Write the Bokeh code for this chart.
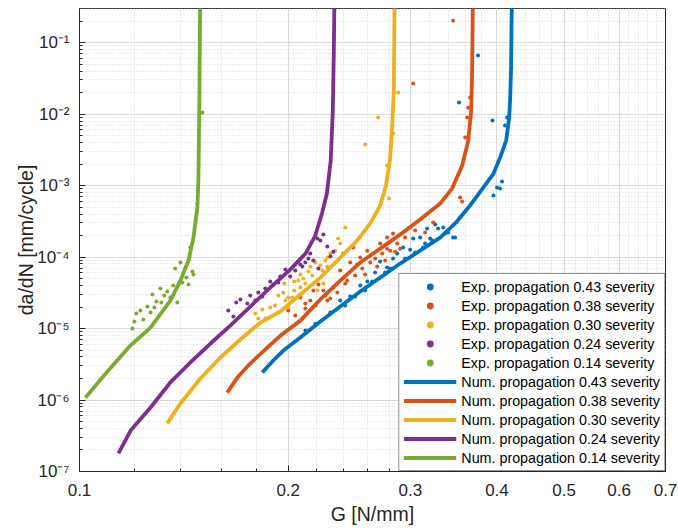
from bokeh.plotting import figure
from bokeh.models import Range1d, FixedTicker, Legend, LegendItem
from bokeh.embed import file_html
from bokeh.resources import INLINE

severities = ["0.43", "0.38", "0.30", "0.24", "0.14"]
colors = ["#0072BD", "#D95319", "#EDB120", "#7E2F8E", "#77AC30"]

# ---------------- numerical curves ----------------
num_G_043 = [0.1835, 0.1903, 0.1968, 0.2082, 0.2225, 0.2377, 0.2540, 0.2714, 0.2900, 0.3099,
             0.3312, 0.3502, 0.3657, 0.3803, 0.3954, 0.4041, 0.4124, 0.4164, 0.4178, 0.4192, 0.4206]
num_D_043 = [2.42e-6, 3.57e-6, 4.92e-6, 7.48e-6, 1.25e-5, 2.03e-5, 3.29e-5, 5.16e-5, 8.11e-5, 1.23e-4,
             1.87e-4, 3.14e-4, 5.25e-4, 8.79e-4, 1.47e-3, 2.46e-3, 4.26e-3, 8.65e-3, 1.55e-2, 4.47e-2, 1.0]

num_G_038 = [0.1633, 0.1689, 0.1763, 0.1865, 0.1958, 0.2082, 0.2225, 0.2377, 0.2540, 0.2714,
             0.2900, 0.3099, 0.3312, 0.3446, 0.3564, 0.3636, 0.3672, 0.3684, 0.3696]
num_D_038 = [1.27e-6, 2.06e-6, 3.24e-6, 5.42e-6, 8.24e-6, 1.29e-5, 2.55e-5, 4.69e-5, 8.38e-5, 1.31e-4,
             2.06e-4, 3.35e-4, 5.6e-4, 9.08e-4, 1.91e-3, 4.26e-3, 1.12e-2, 4.47e-2, 1.0]

num_G_030 = [0.1338, 0.1398, 0.1494, 0.1597, 0.1706, 0.1823, 0.1948, 0.2082, 0.2225, 0.2377,
             0.2514, 0.2625, 0.2714, 0.2767, 0.2803, 0.2821, 0.2840, 0.2849]
num_D_030 = [4.69e-7, 8.93e-7, 2.0e-6, 3.93e-6, 7.02e-6, 1.21e-5, 1.73e-5, 2.99e-5, 5.16e-5, 9.84e-5,
             1.70e-4, 2.94e-4, 5.25e-4, 1.0e-3, 2.24e-3, 5.33e-3, 2.13e-2, 1.0]

num_G_024 = [0.1138, 0.1185, 0.1266, 0.1352, 0.1445, 0.1545, 0.1650, 0.1763, 0.1884, 0.2013,
             0.2118, 0.2188, 0.2237, 0.2274, 0.2303, 0.2319, 0.2327, 0.2334]
num_D_024 = [1.79e-7, 3.74e-7, 7.85e-7, 1.76e-6, 3.35e-6, 6.17e-6, 1.1e-5, 2.03e-5, 3.74e-5, 6.68e-5,
             1.12e-4, 2.0e-4, 4.06e-4, 7.73e-4, 2.24e-3, 1.12e-2, 7.73e-2, 1.0]

num_G_014 = [0.1020, 0.1097, 0.1184, 0.1266, 0.1352, 0.1398, 0.1436, 0.1460, 0.1479, 0.1484, 0.1489, 0.1494]
num_D_014 = [1.08e-6, 2.5e-6, 5.78e-6, 1.03e-5, 2.46e-5, 4.69e-5, 8.93e-5, 1.87e-4, 4.9e-4, 1.17e-3, 1.55e-2, 1.0]

# ---------------- experimental points ----------------
exp_G_043 = [0.2377, 0.2457, 0.2540, 0.2600, 0.2669, 0.2714, 0.2777, 0.2833, 0.2872, 0.2929, 0.2998,
             0.3028, 0.3099, 0.3130, 0.3172, 0.3204, 0.3258, 0.3290, 0.3345, 0.3367, 0.3458, 0.3481,
             0.3539, 0.3954, 0.4001, 0.4041, 0.4068, 0.3941, 0.4108, 0.4136, 0.3527, 0.3756,
             0.2117, 0.2189, 0.2300, 0.2417, 0.2498, 0.2582, 0.2643, 0.2759, 0.2806, 0.2949,
             0.3048, 0.3151, 0.3225, 0.3401]
exp_D_043 = [2.46e-5, 2.81e-5, 3.99e-5, 4.54e-5, 6.07e-5, 8.65e-5, 7.13e-5, 9.53e-5, 1.12e-4, 1.36e-4, 1.27e-4,
             1.82e-4, 1.87e-4, 1.36e-4, 2.5e-4, 1.82e-4, 2.85e-4, 2.5e-4, 2.59e-4, 2.13e-4, 1.87e-4, 1.87e-4,
             3.57e-4, 7.24e-4, 9.38e-4, 9.08e-4, 1.14e-3, 8.11e-3, 6.9e-3, 8.93e-3, 1.45e-2, 6.58e-2,
             9.4e-6, 1.17e-5, 1.67e-5, 2.1e-5, 2.81e-5, 3.40e-5, 4.54e-5, 6.07e-5, 6.9e-5, 9.53e-5,
             1.16e-4, 1.55e-4, 1.70e-4, 2.2e-4]

exp_G_038 = [0.2000, 0.2082, 0.2117, 0.2152, 0.2174, 0.2211, 0.2247, 0.2277, 0.2323, 0.2354, 0.2377,
             0.2401, 0.2433, 0.2457, 0.2482, 0.2515, 0.2540, 0.2582, 0.2600, 0.2626, 0.2687, 0.2714,
             0.2759, 0.2777, 0.2833, 0.2872, 0.2900, 0.2777, 0.2852, 0.3236, 0.3539, 0.3563, 0.3599,
             0.3623, 0.3635, 0.3659, 0.3028, 0.3458,
             0.2047, 0.2117, 0.2189, 0.2262, 0.2300, 0.2417, 0.2498, 0.2557, 0.2669, 0.2732, 0.2806,
             0.2949, 0.3048, 0.3151]
exp_D_038 = [1.79e-5, 2.71e-5, 2.24e-5, 2.46e-5, 3.40e-5, 4.12e-5, 3.40e-5, 2.46e-5, 3.74e-5, 3.19e-5, 6.47e-5,
             1.12e-4, 4.69e-5, 8.38e-5, 1.36e-4, 7.85e-5, 9.84e-5, 5.69e-5, 1.23e-4, 8.38e-5, 7.37e-5, 1.55e-4,
             8.93e-5, 1.87e-4, 2.13e-4, 1.55e-4, 1.31e-4, 1.31e-4, 1.19e-4, 3.04e-4, 6.8e-4, 5.97e-4, 4.69e-3,
             8.93e-3, 1.23e-2, 1.70e-2, 2.67e-2, 0.203,
             1.52e-5, 1.91e-5, 2.1e-5, 2.90e-5, 2.63e-5, 4.26e-5, 5.51e-5, 6.9e-5, 9.53e-5, 1.12e-4, 1.23e-4,
             1.87e-4, 2.35e-4, 2.2e-4]

exp_G_030 = [0.1793, 0.1811, 0.1835, 0.1884, 0.1935, 0.1968, 0.1974, 0.2000, 0.2000, 0.2040, 0.2040,
             0.2082, 0.2082, 0.2103, 0.2138, 0.2152, 0.2174, 0.2189, 0.2204, 0.2204, 0.2240, 0.2247,
             0.2277, 0.2277, 0.2300, 0.2377, 0.2417, 0.2583, 0.2696, 0.2778, 0.2797, 0.2834, 0.2881,
             0.1853, 0.1915, 0.1981, 0.2027, 0.2068, 0.2117, 0.2167, 0.2225, 0.2262, 0.2338, 0.2361]
exp_D_030 = [1.62e-5, 1.38e-5, 1.85e-5, 1.97e-5, 2.90e-5, 3.19e-5, 4.26e-5, 2.71e-5, 1.97e-5, 4.54e-5, 3.40e-5,
             3.74e-5, 5.69e-5, 5.0e-5, 6.27e-5, 7.37e-5, 8.93e-5, 8.38e-5, 4.69e-5, 3.40e-5, 6.47e-5, 4.26e-5,
             9.84e-5, 7.37e-5, 1.12e-4, 1.55e-4, 2.59e-4, 3.74e-3, 8.93e-3, 1.91e-3, 6.58e-4, 5.33e-3, 2.0e-2,
             1.38e-5, 2.1e-5, 2.46e-5, 2.71e-5, 4.69e-5, 4.26e-5, 5.51e-5, 7.6e-5, 8.93e-5, 1.23e-4, 1.82e-4]

exp_G_024 = [0.1639, 0.1667, 0.1683, 0.1706, 0.1746, 0.1763, 0.1811, 0.1853, 0.1884, 0.1903, 0.1948,
             0.1981, 0.2013, 0.2047, 0.2082, 0.2117, 0.2152, 0.2174, 0.2204, 0.2225, 0.2247, 0.2277,
             0.2300, 0.2323, 0.2211, 0.1793, 0.1835, 0.1935, 0.2096, 0.2138]
exp_D_024 = [1.79e-5, 1.47e-5, 2.31e-5, 2.55e-5, 2.24e-5, 2.90e-5, 3.19e-5, 3.62e-5, 4.54e-5, 4.12e-5, 5.33e-5,
             6.68e-5, 5.33e-5, 6.47e-5, 7.85e-5, 8.38e-5, 1.12e-4, 8.93e-5, 1.82e-4, 1.70e-4, 2.06e-4, 1.40e-4,
             1.02e-4, 1.19e-4, 6.9e-5, 2.46e-5, 2.81e-5, 4.4e-5, 7.37e-5, 9.53e-5]

exp_G_014 = [0.1192, 0.1200, 0.1208, 0.1224, 0.1236, 0.1253, 0.1266, 0.1274, 0.1282, 0.1291, 0.1308,
             0.1312, 0.1325, 0.1338, 0.1352, 0.1365, 0.1374, 0.1384, 0.1398, 0.1407, 0.1426, 0.1436,
             0.1445, 0.1455, 0.1460, 0.1479, 0.1504]
exp_D_014 = [1.0e-5, 1.25e-5, 1.62e-5, 1.79e-5, 1.34e-5, 2.03e-5, 1.67e-5, 2.99e-5, 1.97e-5, 2.39e-5, 3.62e-5,
             2.31e-5, 2.90e-5, 3.29e-5, 2.71e-5, 3.99e-5, 6.9e-5, 2.31e-5, 8.38e-5, 4.40e-5, 5.16e-5, 4.12e-5,
             1.36e-4, 6.27e-5, 5.69e-5, 5.6e-4, 1.05e-2]

# ---------------- ticks ----------------
x_ticks = [0.1, 0.2, 0.3, 0.4, 0.5, 0.6, 0.7]
x_tick_labels = ["0.1", "0.2", "0.3", "0.4", "0.5", "0.6", "0.7"]
x_minor = [0.12, 0.14, 0.16, 0.18, 0.22, 0.24, 0.26, 0.28, 0.32, 0.34, 0.36, 0.38,
           0.42, 0.44, 0.46, 0.48, 0.52, 0.54, 0.56, 0.58, 0.62, 0.64, 0.66, 0.68]
y_ticks = [1e-7, 1e-6, 1e-5, 1e-4, 1e-3, 1e-2, 1e-1]
y_tick_labels = ["10\u207b\u2077", "10\u207b\u2076", "10\u207b\u2075", "10\u207b\u2074",
                 "10\u207b\u00b3", "10\u207b\u00b2", "10\u207b\u00b9"]
y_minor = [m * 10.0 ** k for k in range(-7, 0) for m in range(2, 10)]

exp_G = [exp_G_043, exp_G_038, exp_G_030, exp_G_024, exp_G_014]
exp_D = [exp_D_043, exp_D_038, exp_D_030, exp_D_024, exp_D_014]
num_G = [num_G_043, num_G_038, num_G_030, num_G_024, num_G_014]
num_D = [num_D_043, num_D_038, num_D_030, num_D_024, num_D_014]

FONT = "Liberation Sans"
TXT = "#262626"

p = figure(width=678, height=528, x_axis_type="log", y_axis_type="log",
           x_range=Range1d(0.1, 0.7), y_range=Range1d(1e-7, 0.3),
           output_backend="svg", toolbar_location=None,
           min_border_left=79, min_border_right=13, min_border_top=8, min_border_bottom=57)
p.outline_line_color = TXT
p.outline_line_alpha = 1.0
p.background_fill_color = "white"

xt = FixedTicker(ticks=x_ticks, minor_ticks=x_minor)
yt = FixedTicker(ticks=y_ticks, minor_ticks=y_minor)

for ax, tk, labels, ticks in ((p.xaxis[0], xt, x_tick_labels, x_ticks), (p.yaxis[0], yt, y_tick_labels, y_ticks)):
    ax.ticker = tk
    ax.major_label_overrides = {t: l for t, l in zip(ticks, labels)}
    ax.major_label_text_font = FONT
    ax.major_label_text_font_size = "17px"
    ax.major_label_text_color = TXT
    ax.axis_label_text_font = FONT
    ax.axis_label_text_font_size = "19.5px"
    ax.axis_label_text_font_style = "normal"
    ax.axis_label_text_color = TXT
    ax.axis_line_color = TXT
    ax.major_tick_line_color = TXT
    ax.minor_tick_line_color = TXT
    ax.major_tick_in = 6
    ax.major_tick_out = 0
    ax.minor_tick_in = 3
    ax.minor_tick_out = 0

p.xaxis[0].axis_label = "G [N/mm]"
p.yaxis[0].axis_label = "da/dN [mm/cycle]"
p.xaxis[0].major_label_standoff = 12
p.xaxis[0].axis_label_standoff = 4
p.yaxis[0].major_label_standoff = 10
p.yaxis[0].axis_label_standoff = -3

for g in (p.xgrid[0], p.ygrid[0]):
    g.grid_line_color = "#dadada"
    g.grid_line_width = 1
    g.minor_grid_line_color = "#d4d4d4"
    g.minor_grid_line_dash = "1 2"
    g.minor_grid_line_width = 1

exp_r = []
for gx, dy, c in zip(exp_G, exp_D, colors):
    exp_r.append(p.scatter(gx, dy, marker="circle", size=4, fill_color=c, line_color=None))
num_r = []
for gx, dy, c in zip(num_G, num_D, colors):
    num_r.append(p.line(gx, dy, line_color=c, line_width=3.8))

items = [LegendItem(label=f"Exp. propagation {s} severity", renderers=[r]) for s, r in zip(severities, exp_r)]
items += [LegendItem(label=f"Num. propagation {s} severity", renderers=[r]) for s, r in zip(severities, num_r)]
legend = Legend(items=items, location="bottom_right", margin=0, padding=4, spacing=2,
                label_height=17, glyph_height=17, glyph_width=53, label_standoff=5,
                label_text_font=FONT, label_text_font_size="14.3px", label_text_color="#000000",
                border_line_color=TXT, border_line_width=1, background_fill_color="white",
                background_fill_alpha=1.0)
p.add_layout(legend)

open("out.html", "w").write(file_html(p, INLINE))
